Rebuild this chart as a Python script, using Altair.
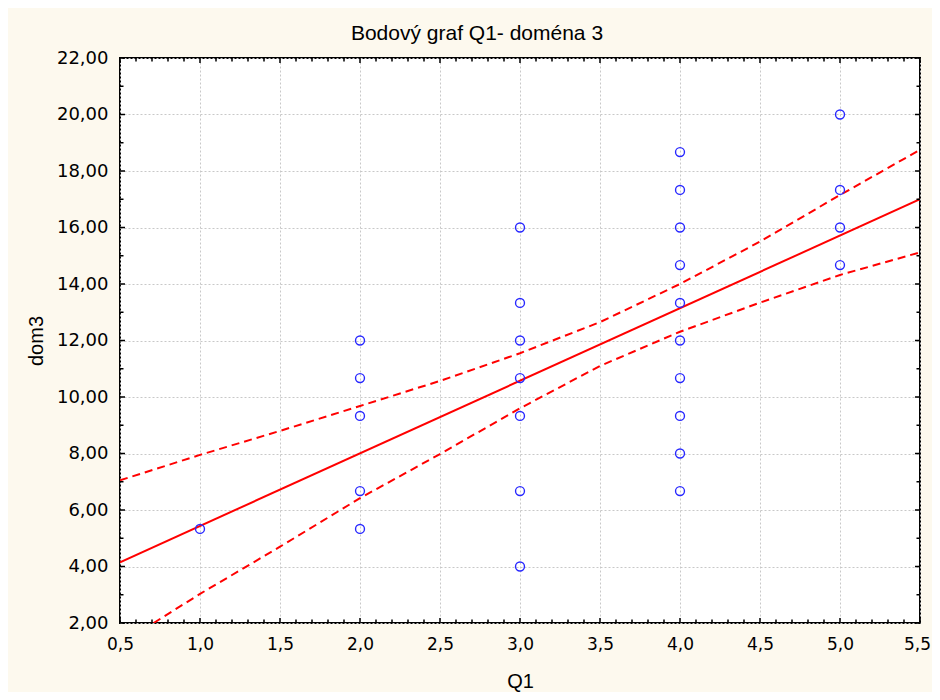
import altair as alt
import pandas as pd

# --- data ---
q1_values = [1,
             2, 2, 2, 2, 2,
             3, 3, 3, 3, 3, 3, 3,
             4, 4, 4, 4, 4, 4, 4, 4, 4, 4,
             5, 5, 5, 5]
dom3_values = [5.33,
               12.0, 10.67, 9.33, 6.67, 5.33,
               16.0, 13.33, 12.0, 10.67, 9.33, 6.67, 4.0,
               18.67, 17.33, 16.0, 14.67, 13.33, 12.0, 10.67, 9.33, 8.0, 6.67,
               20.0, 17.33, 16.0, 14.67]

fit_x = [0.5, 5.5]
fit_y = [4.15, 17.0]

upper_x = [0.5, 1.0, 1.5, 2.0, 2.5, 3.0, 3.5, 4.0, 4.5, 5.0, 5.5]
upper_y = [7.05, 7.95, 8.8, 9.68, 10.57, 11.55, 12.65, 14.0, 15.5, 17.15, 18.75]
lower_x = [0.71, 1.0, 1.5, 2.0, 2.5, 3.0, 3.5, 4.0, 4.5, 5.0, 5.5]
lower_y = [2.0, 3.03, 4.70, 6.42, 7.98, 9.60, 11.1, 12.31, 13.34, 14.32, 15.12]

x_major = [0.5, 1.0, 1.5, 2.0, 2.5, 3.0, 3.5, 4.0, 4.5, 5.0, 5.5]
y_major = [2, 4, 6, 8, 10, 12, 14, 16, 18, 20, 22]
x_minor = [i / 10 for i in range(5, 56) if i % 5]
y_minor = [i for i in range(3, 22, 2)]

title_text = "Bodový graf Q1- doména 3"
x_title = "Q1"
y_title = "dom3"

# --- frames ---
pts = pd.DataFrame({"x": q1_values, "y": dom3_values})
fit = pd.DataFrame({"x": fit_x, "y": fit_y})
bands = pd.concat([
    pd.DataFrame({"x": upper_x, "y": upper_y, "g": "upper"}),
    pd.DataFrame({"x": lower_x, "y": lower_y, "g": "lower"}),
])
xmaj = pd.DataFrame({"v": x_major})
xmin = pd.DataFrame({"v": x_minor})
ymaj = pd.DataFrame({"v": y_major})
ymin = pd.DataFrame({"v": y_minor})

W, H = 800, 565
xs = alt.Scale(domain=[0.5, 5.5], nice=False, zero=False)
ys = alt.Scale(domain=[2, 22], nice=False, zero=False)

xaxis = alt.Axis(values=x_major, labelExpr="replace(format(datum.value, '.1f'), '.', ',')",
                 grid=True, ticks=False, domain=False, labelFlush=False, labelOverlap=False,
                 labelOffset={"condition": {"test": "datum.value >= 5.5", "value": -3}, "value": 0},
                 labelPadding=13, labelFont="DejaVu Sans", labelFontSize=17, labelColor="black",
                 titleFont="Liberation Sans", titleFontSize=20, titleFontWeight="normal",
                 titleColor="black", titleX=400, titleY=64, titleBaseline="alphabetic",
                 titleAlign="center", gridColor="#C8C8C8", gridDash=[2, 2], gridWidth=1)
yaxis = alt.Axis(values=y_major, labelExpr="replace(format(datum.value, '.2f'), '.', ',')",
                 grid=True, ticks=False, domain=False, labelFlush=False, labelOverlap=False,
                 labelPadding=12, labelFont="DejaVu Sans", labelFontSize=18, labelColor="black",
                 titleFont="Liberation Sans", titleFontSize=20, titleFontWeight="normal",
                 titleColor="black", titleX=-78, titleY=H / 2, titleBaseline="alphabetic",
                 titleAlign="center", titleAngle=270, gridColor="#C8C8C8", gridDash=[2, 2], gridWidth=1)


def X(f):
    return alt.X(f, type="quantitative", scale=xs, axis=xaxis, title=x_title)


def Y(f):
    return alt.Y(f, type="quantitative", scale=ys, axis=yaxis, title=y_title)


points = alt.Chart(pts).mark_point(shape="circle", filled=False, color="#2828FF",
                                   size=80, strokeWidth=1.4, opacity=1).encode(x=X("x"), y=Y("y"))
fit_line = alt.Chart(fit).mark_line(color="#FF0000", strokeWidth=2, clip=True).encode(x=X("x"), y=Y("y"))
band_lines = alt.Chart(bands).mark_line(color="#FF0000", strokeWidth=2, strokeDash=[8, 5],
                                        clip=True).encode(x=X("x"), y=Y("y"), detail="g:N")

tick_color = "black"
xt_bot_maj = alt.Chart(xmaj).mark_rule(color=tick_color, strokeWidth=1.5).encode(
    x=X("v"), y=alt.value(H), y2=alt.value(H - 5))
xt_top_maj = alt.Chart(xmaj).mark_rule(color=tick_color, strokeWidth=1.5).encode(
    x=X("v"), y=alt.value(0), y2=alt.value(5))
xt_bot_min = alt.Chart(xmin).mark_rule(color=tick_color, strokeWidth=1.5).encode(
    x=X("v"), y=alt.value(H), y2=alt.value(H - 3.5))
xt_top_min = alt.Chart(xmin).mark_rule(color=tick_color, strokeWidth=1.5).encode(
    x=X("v"), y=alt.value(0), y2=alt.value(3.5))
yt_l_maj = alt.Chart(ymaj).mark_rule(color=tick_color, strokeWidth=1.5).encode(
    y=Y("v"), x=alt.value(0), x2=alt.value(5))
yt_r_maj = alt.Chart(ymaj).mark_rule(color=tick_color, strokeWidth=1.5).encode(
    y=Y("v"), x=alt.value(W), x2=alt.value(W - 5))
yt_l_min = alt.Chart(ymin).mark_rule(color=tick_color, strokeWidth=1.5).encode(
    y=Y("v"), x=alt.value(0), x2=alt.value(3.5))
yt_r_min = alt.Chart(ymin).mark_rule(color=tick_color, strokeWidth=1.5).encode(
    y=Y("v"), x=alt.value(W), x2=alt.value(W - 3.5))

chart = alt.layer(
    band_lines, fit_line, points,
    xt_bot_maj, xt_top_maj, xt_bot_min, xt_top_min,
    yt_l_maj, yt_r_maj, yt_l_min, yt_r_min,
).properties(
    width=W, height=H,
    title=alt.TitleParams(title_text, anchor="middle", dx=-43, dy=30, offset=18,
                          baseline="alphabetic", font="Liberation Sans", fontSize=21,
                          fontWeight="normal", color="black"),
    autosize=alt.AutoSizeParams(type="none"),
    padding={"left": 112, "top": 50, "right": 12, "bottom": 69},
    background="#FDF9EE",
).configure_view(
    stroke="black", strokeWidth=2, fill="white"
)

chart.save("out.html", embed_options={"renderer": "svg", "actions": False})
